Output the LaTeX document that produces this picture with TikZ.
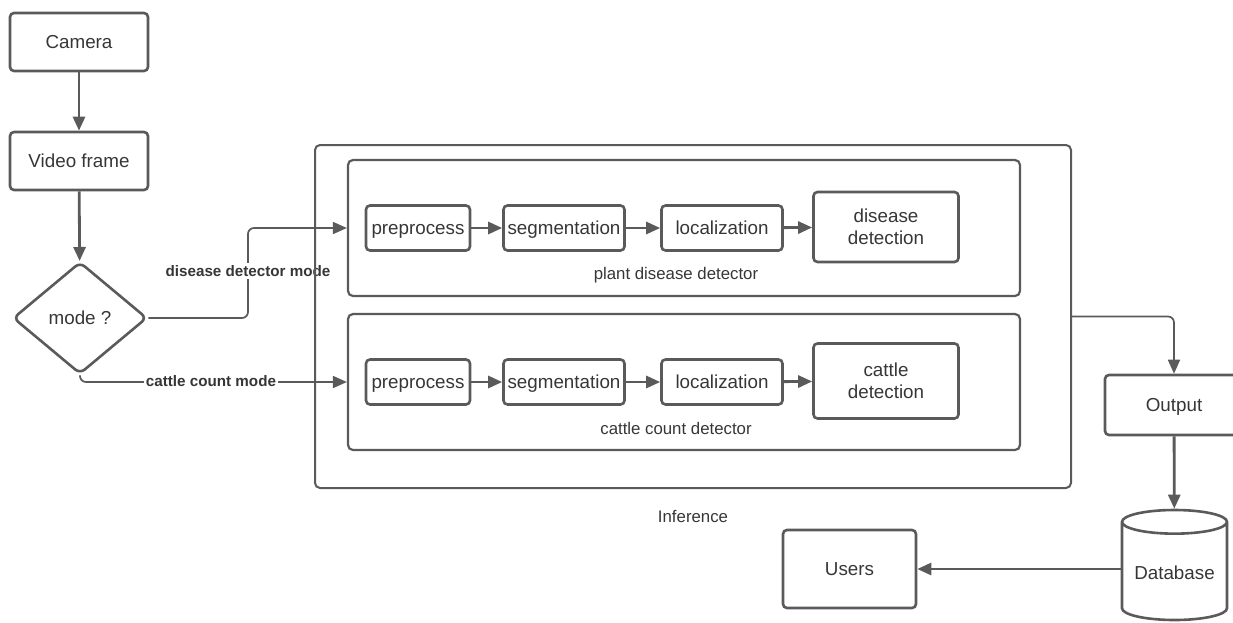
\documentclass[tikz,border=0pt]{standalone}
\usepackage{fontspec}
\setmainfont{Liberation Sans}
\usetikzlibrary{arrows.meta,shapes.geometric}

\definecolor{linegray}{HTML}{5A5A5A}
\definecolor{textgray}{HTML}{363636}

\tikzset{
    box/.style={draw=linegray, line width=1.3pt, rounded corners=2pt, text=textgray,
        align=center, inner sep=1pt, font=\fontsize{9.4}{11}\selectfont},
    oneline/.style={text height=1.55ex, text depth=0.3ex},
    panel/.style={draw=linegray, line width=1.1pt, rounded corners=2.5pt},
    caption/.style={text=textgray, font=\fontsize{8.4}{10}\selectfont},
    flow/.style={draw=linegray, line width=1.4pt, -{Triangle[length=7pt,width=6pt]}},
    thinflow/.style={draw=linegray, line width=0.85pt, rounded corners=3pt,
        -{Triangle[length=7pt,width=6pt]}},
    modelabel/.style={text=textgray, fill=white, inner sep=1pt,
        font=\fontsize{7.6}{9}\selectfont\bfseries}
}

\begin{document}
\begin{tikzpicture}[x=0.5pt, y=-0.5pt]
    \useasboundingbox (0,0) rectangle (1233,622);

    \node[box, oneline, minimum width=69pt, minimum height=29pt] (camera) at (79,42) {Camera};
    \node[box, oneline, minimum width=69pt, minimum height=29pt] (video) at (79,161) {Video frame};
    \node[box, oneline, diamond, rounded corners=3pt, inner sep=0pt, aspect=1.2,
        minimum width=67pt, minimum height=56pt] (mode) at (80,318) {mode ?};

    \node[box, oneline, minimum width=52pt, minimum height=22.5pt] (prep1) at (418,228) {preprocess};
    \node[box, oneline, minimum width=60.5pt, minimum height=22.5pt] (seg1) at (564,228) {segmentation};
    \node[box, oneline, minimum width=60.5pt, minimum height=22.5pt] (loc1) at (722,228) {localization};
    \node[box, minimum width=72.5pt, minimum height=35pt] (det1) at (886,227) {disease\\detection};
    \node[panel, minimum width=336pt, minimum height=68pt] (plant) at (684,228) {};
    \node[caption] (plantlbl) at (676,275) {plant disease detector};

    \node[box, oneline, minimum width=52pt, minimum height=22.5pt] (prep2) at (418,382) {preprocess};
    \node[box, oneline, minimum width=60.5pt, minimum height=22.5pt] (seg2) at (564,382) {segmentation};
    \node[box, oneline, minimum width=60.5pt, minimum height=22.5pt] (loc2) at (722,382) {localization};
    \node[box, minimum width=72.5pt, minimum height=37.5pt] (det2) at (886,381) {cattle\\detection};
    \node[panel, minimum width=336pt, minimum height=68pt] (cattle) at (684,382) {};
    \node[caption] (cattlelbl) at (676,428) {cattle count detector};

    \draw[flow] (camera) -- (video);
    \draw[flow] (video) -- (mode);
    \foreach \a/\b in {prep1/seg1, seg1/loc1, loc1/det1, prep2/seg2, seg2/loc2, loc2/det2}
        \draw[flow] (\a) -- (\b);

    \coordinate (dbend) at (248,228);
    \draw[thinflow] (mode.east) -| (dbend) -- (plant.west);
    \node[modelabel] (dmode) at (248,271) {disease detector mode};
    \draw[thinflow] (mode.south) |- (cattle.west);
    \node[modelabel] (cmode) at (211,381) {cattle count mode};

    \node[panel, line width=1pt, minimum width=378pt, minimum height=171.5pt] (infer) at (693,316.5) {};
    \node[caption] (inferlbl) at (693,516) {Inference};

    \node[box, oneline, minimum width=69pt, minimum height=30pt] (output) at (1174,405) {Output};
    \node[box, oneline, cylinder, shape border rotate=90, aspect=0.28, rounded corners=0pt,
        anchor=shape center, minimum width=52.5pt, minimum height=55pt] (db) at (1174.5,565) {Database};
    \node[box, oneline, minimum width=66.5pt, minimum height=39pt] (users) at (849.5,569) {Users};

    \draw[thinflow] (infer.east) -| (output.north);
    \draw[flow] (output) -- (db);
    \draw[flow] (db.west |- users.east) -- (users.east);
\end{tikzpicture}
\end{document}
